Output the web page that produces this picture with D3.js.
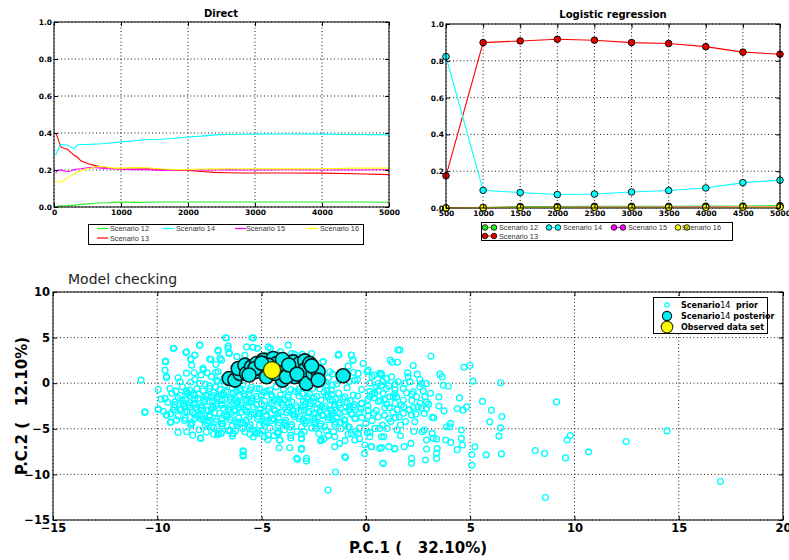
<!DOCTYPE html>
<html><head><meta charset="utf-8">
<script src="https://cdn.jsdelivr.net/npm/d3@7"></script>
<style>body{margin:0;background:#fff} svg{display:block}</style>
</head><body><svg id="c" width="789" height="560"></svg>
<script>
// ---------------- DATA ----------------
const scenarioNames = ["Scenario 12","Scenario 13","Scenario 14","Scenario 15","Scenario 16"];
const scenarioColors = ["#22ee22","#ff0000","#00ffff","#ff00ff","#ffff00"];

const directX  = [25,50,100,150,200,250,300,350,400,500,600,700,800,900,1000,1200,1400,1600,1800,2000,2200,2400,2600,2800,3000,3500,4000,4500,5000];
const direct12 = [0.002,0.004,0.006,0.007,0.008,0.009,0.010,0.012,0.014,0.017,0.020,0.022,0.023,0.025,0.027,0.025,0.026,0.027,0.027,0.027,0.027,0.027,0.027,0.027,0.027,0.027,0.027,0.027,0.026];
const direct13 = [0.400,0.380,0.325,0.318,0.312,0.295,0.280,0.270,0.250,0.235,0.225,0.218,0.212,0.208,0.206,0.205,0.207,0.203,0.200,0.198,0.192,0.187,0.185,0.184,0.184,0.184,0.183,0.180,0.175];
const direct14 = [0.280,0.300,0.340,0.335,0.335,0.325,0.315,0.335,0.338,0.338,0.340,0.342,0.345,0.348,0.352,0.358,0.365,0.366,0.372,0.378,0.383,0.390,0.392,0.393,0.394,0.395,0.394,0.392,0.390];
const direct15 = [0.185,0.195,0.202,0.195,0.192,0.195,0.202,0.205,0.207,0.212,0.214,0.210,0.207,0.205,0.204,0.202,0.201,0.198,0.200,0.200,0.200,0.200,0.201,0.200,0.200,0.201,0.200,0.200,0.201];
const direct16 = [0.140,0.135,0.133,0.145,0.155,0.168,0.178,0.190,0.195,0.205,0.215,0.220,0.215,0.210,0.210,0.213,0.212,0.205,0.203,0.202,0.205,0.206,0.207,0.207,0.207,0.206,0.207,0.210,0.210];

const logitX  = [500,1000,1500,2000,2500,3000,3500,4000,4500,5000];
const logit12 = [0.000,0.003,0.008,0.008,0.009,0.009,0.009,0.010,0.011,0.013];
const logit13 = [0.175,0.899,0.908,0.917,0.912,0.899,0.894,0.877,0.847,0.836];
const logit14 = [0.823,0.096,0.084,0.073,0.076,0.087,0.095,0.109,0.138,0.151];
const logit15 = [0.000,0.002,0.004,0.004,0.005,0.005,0.005,0.006,0.006,0.007];
const logit16 = [0.000,0.002,0.003,0.003,0.004,0.004,0.004,0.004,0.005,0.005];

const directTicksX = [0,1000,2000,3000,4000,5000];
const probTicks = [0,0.2,0.4,0.6,0.8,1.0];
const logitTicksX = [500,1000,1500,2000,2500,3000,3500,4000,4500,5000];
const pcTicksX = [-15,-10,-5,0,5,10,15,20];
const pcTicksY = [-15,-10,-5,0,5,10];

const scenario14Prior = [
[1.63,3.65],[3.12,2.96],[1.26,2.3],[1.52,2.3],[2.27,1.94],[4.70,1.75],[4.99,1.94],[0.75,1.06],[1.23,0.69],[2.0,1.13],[2.03,0.69],[2.46,0.99],[2.59,0.41],[2.67,-0.04],[2.11,0.14],[3.55,0.99],[3.66,0.69],[5.14,0.22],[6.46,0.04],[1.55,0.15],[2.91,-0.04],[3.71,-0.22],[3.95,-0.33],[0.75,-0.22],[0.99,-0.58],[0.83,-1.13],[1.15,-1.5],[1.39,-1.13],[1.47,-1.5],[4.49,-1.61],[4.83,-2.6],[4.38,-2.77],[4.66,-2.96],[3.75,-3.04],[5.59,-2.0],[6.02,-2.96],[6.52,-3.65],[5.94,-4.24],[6.46,-4.9],[6.38,-5.81],[9.14,-2.05],[9.80,-5.74],[9.65,-6.22],[12.48,-6.40],[14.44,-5.23],[10.68,-7.53],[9.57,-8.19],[8.12,-7.38],[8.57,-7.71],[8.61,-12.53],[17.0,-10.78],[5.08,-7.82],[5.08,-8.99],[5.23,-6.98],[5.77,-7.86],[6.5,-7.75],
[4.38,-7.29],[4.58,-6.05],[4.63,-6.78],[4.58,-5.14],[4.06,-4.41],[4.02,-4.77],[3.87,-4.77],[4.07,-6.49],[3.83,-6.23],[3.39,-6.12],[3.42,-7.15],[3.39,-7.69],[3.39,-8.24],[2.91,-7.22],[2.86,-8.42],[3.18,-5.5],[3.23,-6.05],[3.18,-3.75],[3.26,-3.79],[2.8,-3.31],[2.8,-5.14],[2.7,-5.32],[2.91,-6.23],[2.19,-8.24],[2.19,-8.79],[2.16,-6.6],[1.84,-6.96],[1.66,-5.76],[1.66,-4.59],[2.19,-3.5],[2.35,-4.23],[1.42,-3.75],[1.1,-6.96],[1.39,-7.22],[0.75,-7.07],[0.83,-8.79],[0.75,-5.87],[0.86,-5.87],[0.67,-4.96],[1.02,-4.96],
[1.79,-0.58],[1.95,-1.05],[1.79,-1.85],[1.82,-2.58],[1.12,-2.66],[2.27,-2.66],[2.43,-1.49],[2.83,-1.49],[2.91,-2.04],[2.91,-2.77],[2.67,-2.77],[2.27,-0.94],[2.75,-0.83],[2.59,-0.39],[1.87,-0.03],[1.31,-1.49],[0.91,-1.85],
[-10.78,0.33],[-10.59,-3.13],[-9.95,-2.84],[-9.95,-0.69],[-9.82,-1.75],[-9.60,2.34],[-9.63,1.43],[-9.55,0.63],[-9.23,3.80],[-8.63,3.36],[-8.39,2.63],[-8.20,3.07],[-8.35,1.98],[-8.23,1.14],[-7.96,4.17],[-7.80,1.43],[-7.43,2.60],[-7.08,3.51],[-7.19,2.05],[-6.68,4.95],[-6.60,4.06],[-6.55,3.33],[-6.92,2.53],[-7.08,1.25],[-7.60,1.14],[-8.91,0.15],[-9.11,-0.87],[-9.39,-0.58],[-9.63,-1.67],[-9.15,-2.04],[-9.23,-2.95],[-9.55,-3.50],[-9.35,-4.23],[-8.59,-5.32],[-8.35,-4.41],[-7.92,-5.98],[-8.56,-1.12],[-8.24,-1.31],[-8.75,-2.22],[-8.67,-3.13],[-8.20,-3.86],[-7.80,-4.04],[-7.48,-3.50],[-7.32,-2.58],[-7.76,-2.04],[-7.88,-2.95],[-7.40,-4.77],[-7.08,-5.50],[-6.92,-4.41],[-6.68,-3.68],[-6.52,-2.95],[-6.52,-5.14],[-6.36,-5.50],[-6.04,-4.41],[-5.80,-2.95],[-5.88,-7.51],[-5.88,-7.99],[-5.64,-4.77],[-5.40,-5.14],[-5.24,-5.50],[-7.48,-0.58],[-7.96,-0.03],[-7.16,0.33],[-6.76,-0.21],[-6.52,0.33],[-6.20,0.70],[-6.04,1.61],[-5.80,3.07],[-5.72,3.98],[-5.40,4.95],[-5.56,2.16],[-8.20,-2.40],[-8.44,-2.58],[-7.64,-1.31],[-7.16,-1.67],[-6.92,-2.40],[-6.20,-2.22],[-5.72,-1.85],[-6.04,-1.31],[-5.56,-0.76],[-6.84,-1.12],[-6.36,-1.12],
[-4.68,3.98],[-4.76,3.07],[-4.20,3.07],[-4.52,2.53],[-3.56,3.26],[-3.24,2.89],[-3.72,4.17],[-2.60,3.26],[-2.05,2.34],[-1.73,1.25],[-1.33,3.07],[-0.69,3.07],[-0.61,2.53],[-0.85,1.87],[-0.13,2.16],[-0.37,1.07],[-0.53,0.33],[0.11,1.43],[0.67,1.07],[0.43,-1.12],[0.59,-0.03],[-1.89,-0.21],[-1.65,-0.76],[-1.73,-1.85],[-1.49,-2.58],[-1.25,-3.31],[-1.01,-1.49],[-0.77,-2.58],[-1.01,-4.04],[-0.53,-3.86],[-0.21,-2.22],[0.19,-1.49],[0.11,-2.95],[0.59,-3.68],[0.43,-4.96],[0.19,-5.87],[-0.37,-5.50],[-0.85,-4.77],[-1.49,-5.87],[-2.13,-6.23],[-1.97,-4.77],[-2.44,-4.41],[-2.52,-3.31],[-2.52,-2.04],[-3.00,-2.58],[-3.08,-4.77],[-3.40,-3.68],[-3.72,-2.95],[-4.20,-5.50],[-4.12,-6.23],[-4.68,-5.69],[-5.08,-5.50],[-4.76,-4.23],[-5.16,-3.31],[-4.52,-2.22],[-5.00,-1.31],[-5.24,-0.58],[-3.08,-6.05],[-3.08,-7.15],[-2.84,-8.24],[-3.32,-8.24],[-1.49,-6.96],[-1.01,-8.06],[-0.53,-6.23],[-0.05,-6.78],[0.27,-6.96],[-2.13,-2.58],[-1.65,-3.31],[-4.20,-3.31],[-3.72,-1.31],[-2.76,-1.49],[-3.88,-4.41],[-2.28,-3.68],
[-10.60,-3.21],[-9.96,-2.85],[-9.56,-3.50],[-9.37,-4.31],[-9.00,-5.40],[-7.92,-6.06],[-9.08,-4.05],[-6.93,-5.51],[-6.37,-5.51],[-5.89,-7.41],[-5.89,-7.88],[-4.85,-5.87],[-4.21,-5.33],[-4.13,-6.24],[-4.16,-7.08],[-3.65,-7.08],[-3.28,-8.36],[-3.09,-7.26],[-3.09,-6.06],[-2.85,-8.54],[-2.17,-6.31],[-1.46,-9.74],[-1.81,-11.71],[-0.98,-8.14],[-1.26,-6.60],[-0.70,-5.51],[-0.06,-7.70],[0.82,-8.79],[0.66,-7.15],[0.26,-6.97],[1.38,-7.15],[-0.38,-5.51],[0.07,-5.44],
[-9.61,2.43],[-9.56,0.72],[-9.20,3.82],[-8.60,3.45],[-8.20,3.09],[-7.97,4.18],[-8.40,2.65],[-7.49,2.65],[-7.81,1.63],[-7.09,3.64],[-6.61,3.82],[-6.72,4.98],[-6.56,3.27],[-6.99,2.72],[-6.18,2.91],[-5.46,4.98],[-5.41,3.93],[-5.20,3.82],[-4.58,3.82],[-4.08,3.45],[-3.41,3.16],[-3.05,3.16],[-2.05,2.36],[-1.30,3.16],[-0.70,3.09],[-0.62,2.54],[0.05,1.26],[0.74,0.90],[1.17,2.54],[1.54,3.64],
[-8.8,-0.4],[-8.1,-0.6],[-7.5,-0.3],[-7.0,-0.7],[-6.4,-0.5],[-5.9,-0.2],[-5.1,-0.6],[-4.3,-0.4],[-3.6,-0.7],[-2.9,-0.3],[-2.2,-0.6],[-1.6,-0.2],[-0.9,-0.5],[-0.2,-0.7],[0.5,-0.4],[1.1,-0.3],
[-9.3,-1.1],[-8.6,-0.9],[-8.0,-1.2],[-7.3,-1.0],[-6.8,-1.3],[-6.2,-0.9],[-5.6,-1.2],[-4.9,-1.0],[-4.1,-1.3],[-3.4,-0.9],[-2.7,-1.2],[-2.0,-1.0],[-1.3,-1.1],[-0.6,-1.3],[0.2,-0.9],[3.1,-1.1],
[-9.0,-1.6],[-8.4,-1.4],[-7.7,-1.7],[-7.1,-1.5],[-6.5,-1.8],[-5.8,-1.4],[-5.2,-1.7],[-4.5,-1.5],[-3.9,-1.8],[-3.2,-1.4],[-2.5,-1.6],[-1.8,-1.5],[-1.1,-1.7],[-0.4,-1.4],[0.4,-1.6],[3.5,-1.5],
[-9.5,-2.1],[-8.8,-1.9],[-8.2,-2.2],[-7.5,-2.0],[-6.9,-2.3],[-6.3,-1.9],[-5.6,-2.1],[-5.0,-2.3],[-4.4,-1.9],[-3.7,-2.2],[-3.0,-2.0],[-2.3,-2.3],[-1.6,-1.9],[-0.9,-2.1],[-0.2,-2.2],[0.6,-2.0],[1.4,-2.2],[2.2,-1.9],[3.0,-2.3],
[-9.2,-2.6],[-8.5,-2.4],[-7.9,-2.7],[-7.2,-2.5],[-6.6,-2.8],[-6.0,-2.4],[-5.4,-2.6],[-4.7,-2.8],[-4.0,-2.4],[-3.3,-2.7],[-2.7,-2.5],[-2.0,-2.8],[-1.3,-2.4],[-0.6,-2.6],[0.1,-2.5],[0.9,-2.7],[1.7,-2.4],[2.5,-2.6],[3.5,-2.5],
[-9.7,-3.1],[-8.9,-2.9],[-8.3,-3.2],[-7.6,-3.0],[-7.0,-3.3],[-6.3,-2.9],[-5.7,-3.1],[-5.1,-3.3],[-4.4,-2.9],[-3.8,-3.2],[-3.1,-3.0],[-2.4,-3.3],[-1.7,-2.9],[-1.0,-3.1],[-0.3,-3.2],[0.5,-3.0],[1.3,-3.2],[2.1,-2.9],
[-9.0,-3.6],[-8.2,-3.4],[-7.5,-3.7],[-6.8,-3.5],[-6.1,-3.8],[-5.5,-3.4],[-4.8,-3.6],[-4.2,-3.8],[-3.5,-3.4],[-2.8,-3.7],[-2.1,-3.5],[-1.4,-3.8],[-0.7,-3.4],[0.1,-3.6],[0.9,-3.5],[1.6,-3.7],
[-8.7,-4.1],[-7.9,-3.9],[-7.2,-4.2],[-6.5,-4.0],[-5.9,-4.3],[-5.2,-3.9],[-4.5,-4.1],[-3.9,-4.3],[-3.2,-3.9],[-2.5,-4.2],[-1.8,-4.0],[-1.2,-4.3],[-0.5,-3.9],[0.3,-4.1],[1.2,-4.2],
[-8.4,-4.6],[-7.6,-4.4],[-6.9,-4.7],[-6.2,-4.5],[-5.6,-4.8],[-4.9,-4.4],[-4.2,-4.6],[-3.6,-4.8],[-2.9,-4.4],[-2.2,-4.7],[-1.5,-4.5],[-0.8,-4.8],[0.0,-4.4],
[-8.0,-5.1],[-7.3,-4.9],[-6.6,-5.2],[-5.9,-5.0],[-5.3,-5.3],[-4.6,-4.9],[-3.9,-5.1],[-3.3,-5.3],[-2.6,-4.9],[-1.9,-5.2],[-1.2,-5.0],[-0.5,-5.3],
[-8.4,0.1],[-7.7,-0.1],[-7.1,0.2],[-6.2,-0.1],[-1.9,0.1],[-1.4,-0.1],[-0.8,0.2],[0.2,0.0],[0.8,0.2],[1.4,-0.1],
[-9.0,0.6],[-8.2,0.4],[-7.4,0.7],[-6.8,0.5],[-1.8,0.6],[-0.4,0.4],[0.3,0.7],[1.0,0.5],
[-8.6,1.1],[-7.9,0.9],[-7.2,1.2],[-1.6,1.0],[-0.6,1.2],[0.4,0.9],
[-8.45,-0.75],[-7.8,-0.85],[-7.2,-0.45],[-6.7,-0.95],[-6.05,-0.8],[-5.5,-0.45],[-4.75,-0.85],[-3.95,-0.65],[-3.25,-0.95],[-2.55,-0.55],[-1.85,-0.85],
[-8.9,-1.35],[-8.25,-1.15],[-7.65,-1.45],[-6.95,-1.25],[-6.45,-1.55],[-5.85,-1.15],[-5.25,-1.45],[-4.55,-1.25],[-3.75,-1.55],[-3.05,-1.15],[-2.35,-1.45],[-1.65,-1.25],
[-8.65,-1.85],[-8.05,-1.65],[-7.35,-1.95],[-6.75,-1.75],[-6.15,-2.05],[-5.45,-1.65],[-4.85,-1.95],[-4.15,-1.75],[-3.55,-2.05],[-2.85,-1.65],[-2.15,-1.85],[-1.45,-1.75],[-0.75,-1.95],
[-9.15,-2.35],[-8.45,-2.15],[-7.85,-2.45],[-7.15,-2.25],[-6.55,-2.55],[-5.95,-2.15],[-5.25,-2.35],[-4.65,-2.55],[-4.05,-2.15],[-3.35,-2.45],[-2.65,-2.25],[-1.95,-2.55],[-1.25,-2.15],[-0.55,-2.35],
[-8.85,-2.85],[-8.15,-2.65],[-7.55,-2.95],[-6.85,-2.75],[-6.25,-3.05],[-5.65,-2.65],[-5.05,-2.85],[-4.35,-3.05],[-3.65,-2.65],[-2.95,-2.95],[-2.35,-2.75],[-1.65,-3.05],[-0.95,-2.65],[-0.25,-2.85],
[-9.35,-3.35],[-8.55,-3.15],[-7.95,-3.45],[-7.25,-3.25],[-6.65,-3.55],[-5.95,-3.15],[-5.35,-3.35],[-4.75,-3.55],[-4.05,-3.15],[-3.45,-3.45],[-2.75,-3.25],[-2.05,-3.55],[-1.35,-3.15],[-0.65,-3.35],
[-8.65,-3.85],[-7.85,-3.65],[-7.15,-3.95],[-6.45,-3.75],[-5.75,-4.05],[-5.15,-3.65],[-4.45,-3.85],[-3.85,-4.05],[-3.15,-3.65],[-2.45,-3.95],[-1.75,-3.75],[-1.05,-4.05],
[-8.35,-4.35],[-7.55,-4.15],[-6.85,-4.45],[-6.15,-4.25],[-5.55,-4.55],[-4.85,-4.15],[-4.15,-4.35],[-3.55,-4.55],[-2.85,-4.15],[-2.15,-4.45],[-1.45,-4.25],
[-7.65,-5.35],[-6.95,-5.45],[-6.25,-5.25],[-5.55,-5.6],[-4.95,-5.2],[-4.25,-5.45],[-3.6,-5.7],[-2.95,-5.3],[-2.25,-5.55],[-1.55,-5.3],[-0.85,-5.6],
[0.3,-1.2],[0.7,-1.9],[1.0,-2.3],[1.5,-2.9],[0.4,-3.3],[1.1,-3.9],[1.8,-3.3],[2.4,-3.4],[2.6,-2.2],[0.6,-0.8],[1.4,-0.7],[2.2,-1.2],[0.1,-1.8],[1.9,-4.2],[0.8,-4.6],[1.5,-5.1],[2.3,-5.3],[0.2,-5.4],[-0.3,-6.1],[-1.0,-6.3],[-2.0,-6.1],[-3.6,-6.0],[-4.7,-6.2],[-5.4,-5.9],[-6.4,-5.8],[-7.3,-5.6],[-8.3,-5.7],
[-8.6,-0.85],[-7.3,-1.35],[-6.0,-0.6],[-4.6,-0.75],[-3.2,-0.65],[-1.9,-1.35],
[-8.2,-1.75],[-6.9,-1.9],[-5.5,-1.95],[-4.2,-2.05],[-2.9,-2.3],[-1.5,-2.35],
[-8.7,-2.6],[-7.4,-2.85],[-6.1,-2.7],[-4.9,-3.1],[-3.5,-3.0],[-2.2,-3.05],[-0.8,-2.9],
[-8.1,-3.6],[-6.9,-3.85],[-5.6,-3.7],[-4.4,-3.95],[-3.0,-4.05],[-1.6,-4.0],[-0.2,-3.75],
[-7.7,-4.55],[-6.4,-4.7],[-5.1,-4.6],[-3.8,-4.65],[-2.4,-4.95],[-1.0,-4.55],
[-7.1,-5.65],[-5.8,-5.35],[-4.4,-5.75],[-3.1,-5.6],[-1.8,-5.75],[-0.3,-4.9]
];

const scenario14Posterior = [
[-6.55,0.52],[-6.28,0.34],[-6.04,1.07],[-6.12,1.61],[-5.80,1.98],[-5.72,1.07],[-5.48,1.80],[-5.32,1.25],[-5.24,2.16],[-4.92,2.53],[-4.92,1.43],[-4.76,0.70],[-4.44,2.71],[-4.28,2.16],[-4.12,1.25],[-4.00,0.34],[-3.88,1.80],[-3.57,1.43],[-3.49,2.34],[-3.17,2.16],[-3.01,0.70],[-2.93,2.45],[-2.93,1.43],[-2.85,-0.03],[-2.53,1.07],[-2.29,1.25],[-2.29,0.34],[-1.09,0.81],[-4.68,1.98],[-5.32,1.61],[-4.36,1.07],[-3.41,0.70],[-2.69,2.16],[-3.81,0.70],[-5.0,2.2],[-4.0,2.6],[-3.7,2.0],[-3.3,1.0],[-2.6,1.9],[-5.6,0.9]
];
const observedData = [-4.5,1.43];

// ---------------- DRAW ----------------
const svg = d3.select("#c");
const FONT = "DejaVu Sans, sans-serif";

function gridAndAxes(g, x, y, xt, yt, xFmt, yFmt, fs, tick, xPad, yPad) {
  const [x0,x1] = x.range(), [y0,y1] = y.range();
  const ga = g.append("g");
  ga.append("g").attr("transform",`translate(0,${y0})`)
    .call(d3.axisBottom(x).tickValues(xt).tickFormat(xFmt).tickSizeInner(-tick).tickSizeOuter(0).tickPadding(xPad));
  ga.append("g").attr("transform",`translate(0,${y1})`)
    .call(d3.axisTop(x).tickValues(xt).tickFormat("").tickSizeInner(-tick).tickSizeOuter(0));
  ga.append("g").attr("transform",`translate(${x0},0)`)
    .call(d3.axisLeft(y).tickValues(yt).tickFormat(yFmt).tickSizeInner(-tick).tickSizeOuter(0).tickPadding(yPad));
  ga.append("g").attr("transform",`translate(${x1},0)`)
    .call(d3.axisRight(y).tickValues(yt).tickFormat("").tickSizeInner(-tick).tickSizeOuter(0));
  ga.selectAll(".domain").remove();
  ga.selectAll("g").attr("font-family",FONT).attr("font-size",fs).attr("font-weight","bold");
  ga.selectAll("text").attr("fill","#000");
  ga.selectAll(".tick line").attr("stroke","#000");
  ga.append("rect").attr("x",x0).attr("y",y1).attr("width",x1-x0).attr("height",y0-y1)
    .attr("fill","none").attr("stroke","#000").attr("stroke-width",1);
}
function grid(g, x, y, xt, yt) {
  const [x0,x1] = x.range(), [y0,y1] = y.range();
  g.append("g").selectAll("line").data(xt).join("line")
    .attr("x1",d=>x(d)).attr("x2",d=>x(d)).attr("y1",y0).attr("y2",y1)
    .attr("stroke","#000").attr("stroke-width",0.9).attr("stroke-dasharray","1,2.5");
  g.append("g").selectAll("line").data(yt).join("line")
    .attr("y1",d=>y(d)).attr("y2",d=>y(d)).attr("x1",x0).attr("x2",x1)
    .attr("stroke","#000").attr("stroke-width",0.9).attr("stroke-dasharray","1,2.5");
}

// ---- Direct ----
{
  const g = svg.append("g");
  const x = d3.scaleLinear().domain([0,5000]).range([54,389]);
  const y = d3.scaleLinear().domain([0,1]).range([207,22]);
  grid(g,x,y,directTicksX,probTicks);
  const series = [direct12,direct13,direct14,direct15,direct16];
  const line = d3.line().x((d,i)=>x(directX[i])).y(d=>y(d));
  series.forEach((s,k)=>{
    g.append("path").datum(s).attr("d",line).attr("fill","none")
      .attr("stroke",scenarioColors[k]).attr("stroke-width",1.1);
  });
  gridAndAxes(g,x,y,directTicksX,probTicks,d3.format("d"),d3.format(".1f"),"7.5px",4,3,2);
  g.append("text").attr("x",221).attr("y",17).attr("text-anchor","middle")
    .attr("font-family",FONT).attr("font-weight","bold").attr("font-size","10px").text("Direct");
  const lg = g.append("g");
  lg.append("rect").attr("x",88.5).attr("y",224.5).attr("width",275).attr("height",20)
    .attr("fill","#fff").attr("stroke","#000").attr("stroke-width",1);
  const pos = [[97,230],[97,239.5],[163,230],[235,230],[307,230]];
  scenarioNames.forEach((n,k)=>{
    const [px,py] = pos[k];
    lg.append("line").attr("x1",px).attr("x2",px+11).attr("y1",py-1.5).attr("y2",py-1.5)
      .attr("stroke",scenarioColors[k]).attr("stroke-width",1.2);
    lg.append("text").attr("x",px+(k===3?11:13)).attr("y",py+1)
      .attr("font-family","Liberation Sans, Arial, sans-serif").attr("font-size","7.3px")
      .attr("fill","#333").text(n);
  });
}

// ---- Logistic regression ----
{
  const g = svg.append("g");
  const x = d3.scaleLinear().domain([500,5000]).range([446,780]);
  const y = d3.scaleLinear().domain([0,1]).range([208,24]);
  grid(g,x,y,logitTicksX,probTicks);
  const series = [logit12,logit13,logit14,logit15,logit16];
  const line = d3.line().x((d,i)=>x(logitX[i])).y(d=>y(d));
  series.forEach((s,k)=>{
    g.append("path").datum(s).attr("d",line).attr("fill","none")
      .attr("stroke",scenarioColors[k]).attr("stroke-width",1.1);
    g.append("g").selectAll("circle").data(s).join("circle")
      .attr("cx",(d,i)=>x(logitX[i])).attr("cy",d=>y(d)).attr("r",3.3)
      .attr("fill",k===1?"#e00000":scenarioColors[k]).attr("stroke","#000").attr("stroke-width",0.9);
  });
  gridAndAxes(g,x,y,logitTicksX,probTicks,d3.format("d"),d3.format(".1f"),"7.5px",4,3,2);
  g.append("text").attr("x",613).attr("y",18).attr("text-anchor","middle")
    .attr("font-family",FONT).attr("font-weight","bold").attr("font-size","10px").text("Logistic regression");
  const lg = g.append("g");
  lg.append("rect").attr("x",481.5).attr("y",222.5).attr("width",251).attr("height",18)
    .attr("fill","#fff").attr("stroke","#000").attr("stroke-width",1);
  const pos = [[485,227.5],[485,236],[549,227.5],[614,227.5],[678,227.5]];
  scenarioNames.forEach((n,k)=>{
    const [px,py] = pos[k];
    lg.append("line").attr("x1",px).attr("x2",px+9).attr("y1",py).attr("y2",py)
      .attr("stroke",scenarioColors[k]).attr("stroke-width",1.1);
    [px,px+9].forEach(cx=>lg.append("circle").attr("cx",cx).attr("cy",py).attr("r",2.8)
      .attr("fill",k===1?"#e00000":scenarioColors[k]).attr("stroke","#000").attr("stroke-width",0.8));
    lg.append("text").attr("x",px+(k===4?4:14)).attr("y",py+2.5)
      .attr("font-family","Liberation Sans, Arial, sans-serif").attr("font-size","7.3px")
      .attr("fill","#333").text(n);
  });
}

// ---- Model checking ----
{
  const g = svg.append("g");
  const x = d3.scaleLinear().domain([-15,20]).range([53,783]);
  const y = d3.scaleLinear().domain([-15,10]).range([520,292]);
  grid(g,x,y,pcTicksX,pcTicksY);
  g.append("g").selectAll("circle").data(scenario14Prior).join("circle")
    .attr("cx",d=>x(d[0])).attr("cy",d=>y(d[1])).attr("r",2.9)
    .attr("fill","none").attr("stroke","#00ffff").attr("stroke-width",1.35);
  g.append("g").selectAll("circle").data(scenario14Posterior).join("circle")
    .attr("cx",d=>x(d[0])).attr("cy",d=>y(d[1])).attr("r",7)
    .attr("fill","#00f0f0").attr("stroke","#0a1a1a").attr("stroke-width",1.6);
  g.append("circle").attr("cx",x(observedData[0])).attr("cy",y(observedData[1])).attr("r",8.5)
    .attr("fill","#ffff00").attr("stroke","#333300").attr("stroke-width",1.2);
  gridAndAxes(g,x,y,pcTicksX,pcTicksY,d3.format("d"),d3.format("d"),"11.5px",4,4,3);
  g.append("text").attr("x",68).attr("y",284).attr("font-family",FONT)
    .attr("font-size","14px").attr("fill","#222").text("Model checking");
  g.append("text").attr("x",418).attr("y",553).attr("text-anchor","middle")
    .attr("font-family",FONT).attr("font-weight","bold").attr("font-size","15px")
    .style("white-space","pre").text("P.C.1 (   32.10%)");
  g.append("text").attr("transform","translate(27,406) rotate(-90)").attr("text-anchor","middle")
    .attr("font-family",FONT).attr("font-weight","bold").attr("font-size","15px")
    .style("white-space","pre").text("P.C.2 (   12.10%)");
  const lg = g.append("g");
  lg.append("rect").attr("x",653.5).attr("y",297.5).attr("width",114).attr("height",36)
    .attr("fill","#fff").attr("stroke","#000").attr("stroke-width",1);
  lg.append("circle").attr("cx",667).attr("cy",305).attr("r",2.2).attr("fill","none").attr("stroke","#00ffff").attr("stroke-width",1.2);
  lg.append("circle").attr("cx",667).attr("cy",316).attr("r",4.6).attr("fill","#00f0f0").attr("stroke","#0a1a1a").attr("stroke-width",1.2);
  lg.append("circle").attr("cx",667).attr("cy",327).attr("r",5.8).attr("fill","#ffff00").attr("stroke","#333300").attr("stroke-width",1.1);
  const items = [["Scenario","14","  prior"],["Scenario","14"," posterior"],["Observed data set"]];
  items.forEach((it,i)=>{
    const t = lg.append("text").attr("x",681).attr("y",308+i*11).attr("font-family",FONT)
      .attr("font-size","8px").attr("font-weight","bold").style("white-space","pre");
    t.append("tspan").text(it[0]);
    if (it.length>1) {
      t.append("tspan").attr("font-weight","normal").text(it[1]);
      t.append("tspan").text(it[2]);
    }
  });
}
</script>
</body></html>
